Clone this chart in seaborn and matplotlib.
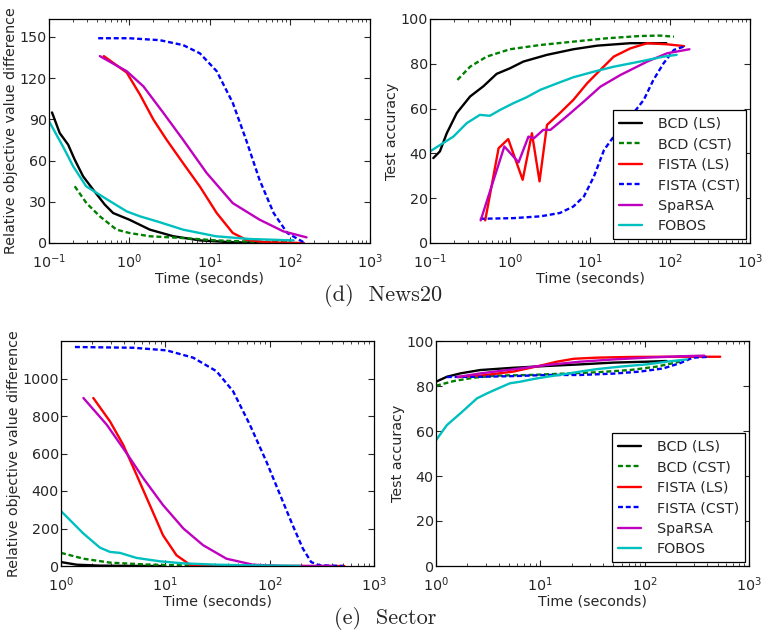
import numpy as np
import matplotlib
matplotlib.use("Agg")
import matplotlib.pyplot as plt
import seaborn as sns

# ---- News20: relative objective value difference ----
n20_obj_bcd_ls_t = [0.109, 0.136, 0.173, 0.209, 0.266, 0.355, 0.496, 0.63, 1.0, 1.81, 3.55, 7.6, 19.5, 50]
n20_obj_bcd_ls_v = [95, 80, 71.6, 60.7, 48.5, 38.8, 27.9, 21.8, 17, 9.7, 4.9, 1.9, 0.5, 0.2]
n20_obj_bcd_cst_t = [0.209, 0.293, 0.43, 0.695, 1.0, 1.81, 4.7, 12, 32, 100]
n20_obj_bcd_cst_v = [41.3, 29, 19.4, 9.7, 7.3, 4.9, 3.6, 1.9, 1.0, 0.5]
n20_obj_fista_ls_t = [0.482, 0.93, 1.36, 2.0, 2.93, 4.7, 7.6, 12.3, 19.5, 28.6, 50, 150]
n20_obj_fista_ls_v = [136, 124, 108, 89.8, 75, 58, 41, 21.8, 7.3, 2.4, 0.5, 0]
n20_obj_fista_cst_t = [0.41, 1.0, 2.4, 4.7, 7.6, 12.3, 19.5, 28.6, 42, 63, 93, 142, 150]
n20_obj_fista_cst_v = [149, 149, 147.6, 144, 138, 125, 102, 75, 46, 21.8, 7.3, 1.2, 0.5]
n20_obj_sparsa_t = [0.43, 0.93, 1.5, 2.66, 4.7, 9.2, 19.5, 42, 83, 162]
n20_obj_sparsa_v = [136, 125, 114, 94.7, 75, 51, 29, 17, 8.5, 4.1]
n20_obj_fobos_t = [0.1, 0.15, 0.2, 0.29, 0.43, 0.63, 0.93, 1.36, 2.2, 4.7, 12, 32, 112]
n20_obj_fobos_v = [88.6, 70, 55.8, 41.3, 35, 29, 23, 19.4, 15.8, 9.7, 4.9, 2.9, 1.9]

# ---- News20: test accuracy ----
n20_acc_bcd_ls_t = [0.11, 0.133, 0.162, 0.216, 0.317, 0.466, 0.68, 1.0, 1.47, 2.9, 6.2, 12.3, 32, 90]
n20_acc_bcd_ls_v = [37.9, 40.9, 49, 58, 65.4, 70, 75.5, 78, 81, 84, 86.5, 88.1, 89.2, 89.2]
n20_acc_bcd_cst_t = [0.22, 0.317, 0.51, 1.0, 2.4, 6.2, 16.3, 42, 75, 112]
n20_acc_bcd_cst_v = [72.8, 78.7, 83.2, 86.5, 88.4, 89.9, 91.4, 92.4, 92.6, 92.1]
n20_acc_fista_ls_t = [0.49, 0.72, 0.95, 1.44, 1.88, 2.34, 2.9, 4.2, 6.2, 9.2, 13.5, 19.8, 32, 52, 92, 150]
n20_acc_fista_ls_v = [10.1, 42.3, 46.4, 28.2, 49, 27.5, 52.7, 58, 63.9, 71.3, 77.3, 83.2, 86.9, 89.2, 88.7, 87.9]
n20_acc_fista_cst_t = [0.42, 1.1, 2.4, 4.2, 6.2, 8.4, 11.2, 15, 19.8, 30, 47, 62, 83, 112, 150]
n20_acc_fista_cst_v = [10.8, 11.1, 11.9, 13.4, 16.3, 20.8, 29.7, 41.6, 47.5, 55, 63.9, 72.8, 80.2, 86.2, 87.7]
n20_acc_sparsa_t = [0.43, 0.85, 1.28, 1.7, 2.0, 2.6, 3.2, 5.1, 8.4, 13.5, 24, 52, 92, 175]
n20_acc_sparsa_v = [10.1, 43.1, 36, 47.5, 46.8, 50.5, 50.5, 56.5, 63.2, 69.8, 75, 81, 84.7, 86.5]
n20_acc_fobos_t = [0.1, 0.196, 0.288, 0.42, 0.56, 0.75, 1.1, 1.6, 2.4, 3.9, 6.2, 11.2, 19.8, 42, 83, 121]
n20_acc_fobos_v = [40.9, 47.5, 53.5, 57.2, 56.8, 59.4, 62.4, 65, 68.4, 71.3, 74, 76.5, 78.7, 81, 83.2, 84]

# ---- Sector: relative objective value difference ----
sec_obj_bcd_ls_t = [1.0, 1.41, 2.36, 5.0, 10]
sec_obj_bcd_ls_v = [21, 7, 2, 0.5, 0]
sec_obj_bcd_cst_t = [1.0, 1.64, 2.95, 7.1, 14.9, 45]
sec_obj_bcd_cst_v = [70, 39, 18, 7, 3.6, 0]
sec_obj_fista_ls_t = [2.04, 2.95, 3.95, 5.3, 7.1, 9.5, 12.8, 17.2, 24.8, 520]
sec_obj_fista_ls_v = [896, 771, 646, 486, 325, 164, 57, 7, 0, 0]
sec_obj_fista_cst_t = [1.36, 4.93, 10.3, 18.5, 30.9, 44.6, 64.5, 93, 134, 166, 208, 250, 300, 510]
sec_obj_fista_cst_v = [1168, 1164, 1150, 1111, 1039, 932, 754, 557, 343, 218, 93, 21, 3.6, 0]
sec_obj_sparsa_t = [1.64, 2.74, 4.25, 6.15, 9.5, 14.9, 23, 38.5, 69, 134, 400]
sec_obj_sparsa_v = [896, 754, 602, 468, 325, 200, 111, 39, 7, 0, 0]
sec_obj_fobos_t = [1.0, 1.64, 2.36, 2.95, 3.67, 5.3, 8.9, 14.9, 30.9, 64, 195]
sec_obj_fobos_v = [293, 173, 98, 75, 70, 43, 25, 14, 7, 3.6, 1]

# ---- Sector: test accuracy ----
sec_acc_bcd_ls_t = [1.0, 1.27, 1.71, 2.66, 5.5, 11.5, 24, 50, 104, 162]
sec_acc_bcd_ls_v = [81.9, 84.1, 85.6, 87.1, 88.1, 88.9, 89.6, 90.4, 90.8, 91.1]
sec_acc_bcd_cst_t = [1.0, 1.48, 2.3, 3.8, 8.0, 16.7, 34.8, 72.5, 130, 217]
sec_acc_bcd_cst_v = [80.1, 82.2, 83.7, 84.6, 84.9, 85.5, 86.1, 87.1, 88.6, 90.8]
sec_acc_fista_ls_t = [1.61, 2.66, 5.5, 9.9, 14.4, 20.9, 34.8, 72.5, 150, 530]
sec_acc_fista_ls_v = [84, 84.6, 86.4, 89, 90.8, 92.1, 92.6, 92.9, 93, 93]
sec_acc_fista_cst_t = [1.27, 2.66, 5.5, 11.5, 24, 50, 90, 150, 217, 290, 420]
sec_acc_fista_cst_v = [84, 84.1, 84.4, 84.9, 84.9, 85.5, 86.4, 87.8, 90.1, 92.6, 93.0]
sec_acc_sparsa_t = [1.61, 2.66, 5.5, 11.5, 24, 50, 104, 217, 373]
sec_acc_sparsa_v = [84, 85.6, 87.4, 89.3, 90.8, 91.8, 92.6, 93.2, 93.5]
sec_acc_fobos_t = [1.0, 1.27, 1.71, 2.47, 3.08, 3.8, 5.1, 6.4, 8.6, 11.5, 16.7, 24, 34.8, 58, 104, 162, 253]
sec_acc_fobos_v = [55.9, 62.6, 67.8, 74.5, 76.7, 78.6, 81.2, 81.9, 83.1, 84.1, 85.2, 86.4, 87.5, 88.6, 89.6, 90.8, 91.8]

methods = ["BCD (LS)", "BCD (CST)", "FISTA (LS)", "FISTA (CST)", "SpaRSA", "FOBOS"]
colors = ["k", (0, 0.5, 0), "r", "b", (0.75, 0, 0.75), (0, 0.75, 0.75)]
dash = (0, (2.1, 1.2))
styles = ["-", dash, "-", dash, "-", "-"]

sns.set_style("ticks", {"xtick.direction": "in", "ytick.direction": "in",
                        "axes.edgecolor": "black"})
plt.rcParams["font.family"] = ["DejaVu Sans"]
plt.rcParams["xtick.top"] = True
plt.rcParams["ytick.right"] = True

FS = 10.3
W, H = 762, 637
fig = plt.figure(figsize=(W / 100, H / 100), dpi=100)


def box(l, r, t, b):
    return [l / W, 1 - b / H, (r - l) / W, (b - t) / H]


panels = [
    (box(49, 370, 19, 243),
     [(n20_obj_bcd_ls_t, n20_obj_bcd_ls_v), (n20_obj_bcd_cst_t, n20_obj_bcd_cst_v),
      (n20_obj_fista_ls_t, n20_obj_fista_ls_v), (n20_obj_fista_cst_t, n20_obj_fista_cst_v),
      (n20_obj_sparsa_t, n20_obj_sparsa_v), (n20_obj_fobos_t, n20_obj_fobos_v)],
     (0.1, 1000), (0, 163), [0, 30, 60, 90, 120, 150], "Relative objective value difference", False),
    (box(430, 750, 19, 243),
     [(n20_acc_bcd_ls_t, n20_acc_bcd_ls_v), (n20_acc_bcd_cst_t, n20_acc_bcd_cst_v),
      (n20_acc_fista_ls_t, n20_acc_fista_ls_v), (n20_acc_fista_cst_t, n20_acc_fista_cst_v),
      (n20_acc_sparsa_t, n20_acc_sparsa_v), (n20_acc_fobos_t, n20_acc_fobos_v)],
     (0.1, 1000), (0, 100), [0, 20, 40, 60, 80, 100], "Test accuracy", True),
    (box(61, 374, 341, 566),
     [(sec_obj_bcd_ls_t, sec_obj_bcd_ls_v), (sec_obj_bcd_cst_t, sec_obj_bcd_cst_v),
      (sec_obj_fista_ls_t, sec_obj_fista_ls_v), (sec_obj_fista_cst_t, sec_obj_fista_cst_v),
      (sec_obj_sparsa_t, sec_obj_sparsa_v), (sec_obj_fobos_t, sec_obj_fobos_v)],
     (1, 1000), (0, 1200), [0, 200, 400, 600, 800, 1000], "Relative objective value difference", False),
    (box(436, 749, 341, 566),
     [(sec_acc_bcd_ls_t, sec_acc_bcd_ls_v), (sec_acc_bcd_cst_t, sec_acc_bcd_cst_v),
      (sec_acc_fista_ls_t, sec_acc_fista_ls_v), (sec_acc_fista_cst_t, sec_acc_fista_cst_v),
      (sec_acc_sparsa_t, sec_acc_sparsa_v), (sec_acc_fobos_t, sec_acc_fobos_v)],
     (1, 1000), (0, 100), [0, 20, 40, 60, 80, 100], "Test accuracy", True),
]

for rect, series, xlim, ylim, yticks, ylabel, show_leg in panels:
    ax = fig.add_axes(rect)
    for (t, v), name, c, ls in zip(series, methods, colors, styles):
        sns.lineplot(x=t, y=v, ax=ax, color=c, linestyle=ls, linewidth=1.7,
                     label=name, sort=False)
    ax.set_xscale("log")
    ax.set_xlim(*xlim)
    ax.set_ylim(*ylim)
    ax.set_yticks(yticks)
    ax.tick_params(which="major", labelsize=FS, width=0.8, length=4,
                   top=True, right=True, direction="in")
    ax.tick_params(which="minor", width=0.6, length=2.2, top=True,
                   right=True, direction="in")
    ax.tick_params(axis="x", which="major", pad=6.5)
    ax.tick_params(axis="y", which="major", pad=1.5)
    ax.set_xlabel("Time (seconds)", fontsize=FS, labelpad=0.5)
    ax.set_ylabel(ylabel, fontsize=FS, labelpad=1)
    for s in ax.spines.values():
        s.set_linewidth(0.9)
        s.set_color("black")
    if show_leg:
        leg = ax.legend(loc="lower right", fontsize=FS, fancybox=False,
                        framealpha=1, edgecolor="black", handlelength=1.6,
                        handletextpad=1.1, borderpad=0.45,
                        labelspacing=0.45, borderaxespad=0.25)
        leg.get_frame().set_linewidth(0.9)
    else:
        if ax.get_legend() is not None:
            ax.get_legend().remove()

fig.text(383 / W, 1 - 296 / H, "(d)  News20", ha="center", va="center",
         fontsize=16, family="cmr10")
fig.text(385 / W, 1 - 619 / H, "(e)  Sector", ha="center", va="center",
         fontsize=16, family="cmr10")

fig.savefig("out.png", dpi=100)
